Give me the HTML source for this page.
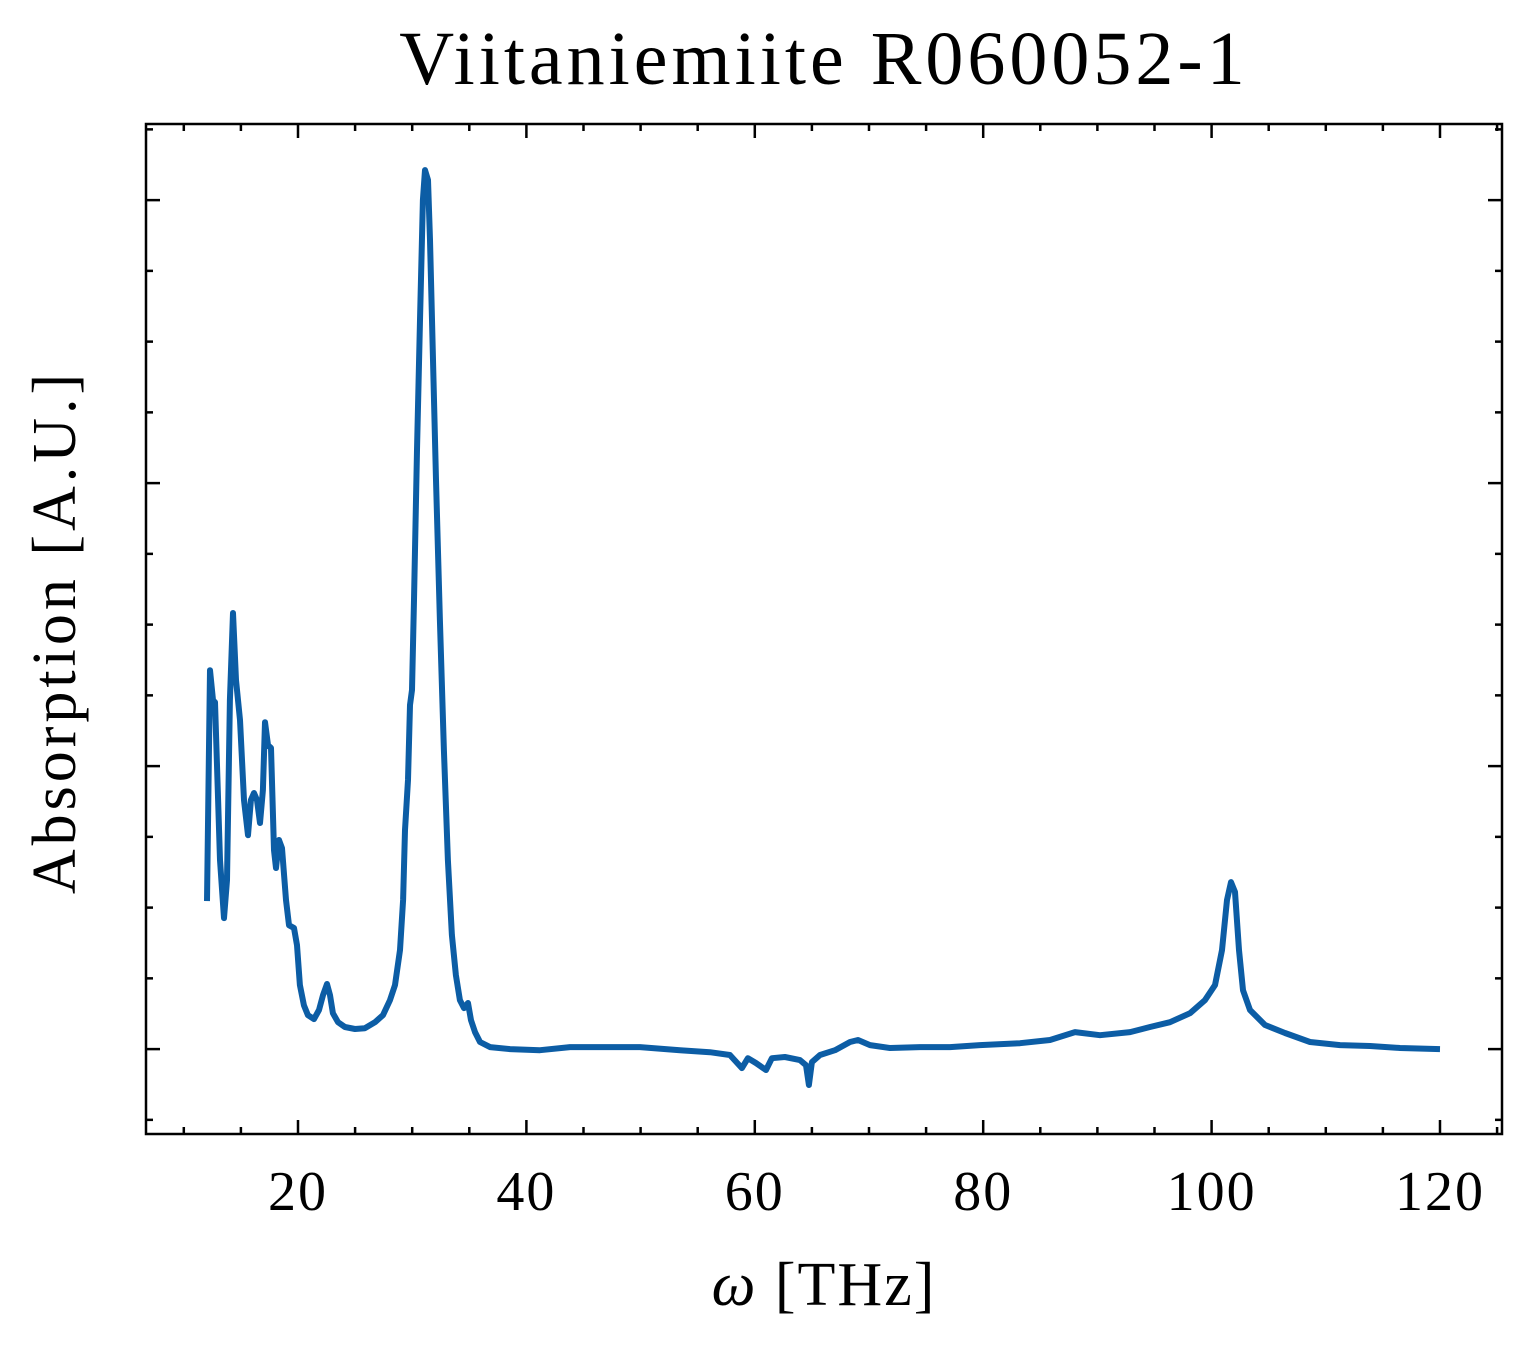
<!DOCTYPE html>
<html><head><meta charset="utf-8"><style>
body{margin:0;background:#fff}
svg text{font-family:"Liberation Serif",serif;fill:#000}
</style></head><body>
<svg id="chart" width="1527" height="1345" viewBox="0 0 1527 1345" xmlns="http://www.w3.org/2000/svg">
<text x="824" y="84" font-size="76" letter-spacing="4" text-anchor="middle">Viitaniemiite R060052-1</text>
<g id="ticks"></g>
<path id="series" fill="none" stroke="#0C5DA5" stroke-width="6" stroke-linejoin="round"/>
<rect x="146" y="124" width="1356" height="1010" fill="none" stroke="#000" stroke-width="2.5"/>
<text x="824" y="1305" font-size="62" letter-spacing="2" text-anchor="middle"><tspan font-style="italic">ω</tspan> [THz]</text>
<text transform="translate(75,632) rotate(-90)" font-size="62" letter-spacing="4" text-anchor="middle">Absorption [A.U.]</text>
</svg>
<script>
const xTicks=[20,40,60,80,100,120];
const xTickLabels=["20","40","60","80","100","120"];
const yTicks=[0,1,2,3];
const freqs=[12.03,12.29,12.56,12.73,13.17,13.52,13.78,14.04,14.31,14.57,14.92,15.27,15.62,15.88,16.15,16.41,16.67,16.93,17.11,17.37,17.64,17.90,18.07,18.34,18.60,18.95,19.21,19.65,19.91,20.17,20.52,20.87,21.40,21.84,22.19,22.54,22.80,23.06,23.50,24.11,24.99,25.86,26.74,27.44,28.06,28.49,28.93,29.20,29.37,29.63,29.81,29.98,30.16,30.42,30.68,30.94,31.12,31.38,31.56,31.82,32.08,32.43,32.78,33.13,33.48,33.83,34.18,34.54,34.89,35.15,35.50,35.94,36.81,38.56,41.19,43.82,46.44,49.95,53.45,56.07,57.82,58.87,59.40,60.10,60.98,61.50,62.64,63.96,64.48,64.74,65.00,65.71,67.02,68.34,69.04,70.09,71.84,74.47,77.09,79.72,83.22,85.85,88.04,90.23,92.86,94.61,96.36,98.11,99.42,100.30,100.91,101.35,101.70,102.05,102.40,102.75,103.36,104.68,106.43,108.62,111.24,113.87,116.50,120.00];
const absorption=[0.523,1.339,1.233,1.226,0.668,0.463,0.597,1.233,1.541,1.304,1.163,0.880,0.756,0.880,0.905,0.880,0.799,0.915,1.155,1.074,1.064,0.703,0.640,0.739,0.710,0.527,0.438,0.428,0.367,0.226,0.155,0.120,0.106,0.138,0.191,0.230,0.191,0.127,0.095,0.078,0.071,0.074,0.095,0.120,0.173,0.226,0.350,0.527,0.774,0.951,1.216,1.269,1.587,2.117,2.576,3.000,3.106,3.071,2.859,2.435,2.011,1.516,1.057,0.668,0.403,0.261,0.173,0.145,0.163,0.102,0.060,0.025,0.007,0,-0.004,0.007,0.007,0.007,-0.004,-0.011,-0.021,-0.067,-0.032,-0.049,-0.074,-0.032,-0.028,-0.039,-0.057,-0.127,-0.046,-0.021,-0.004,0.025,0.032,0.014,0.004,0.007,0.007,0.014,0.021,0.032,0.060,0.049,0.060,0.078,0.095,0.127,0.173,0.226,0.350,0.527,0.590,0.555,0.350,0.208,0.138,0.085,0.057,0.025,0.014,0.011,0.004,0];
const L=146,R=1502,T=124,B=1134;
const xMin=6.69,xMax=125.43,yMin=-0.300,yMax=3.269;
const sx=v=>L+(v-xMin)/(xMax-xMin)*(R-L);
const sy=v=>B-(v-yMin)/(yMax-yMin)*(B-T);
const NS="http://www.w3.org/2000/svg";
const g=document.getElementById('ticks');
function line(x1,y1,x2,y2,name){const l=document.createElementNS(NS,'line');
l.setAttribute('x1',x1);l.setAttribute('y1',y1);l.setAttribute('x2',x2);l.setAttribute('y2',y2);
l.setAttribute('stroke','#000');l.setAttribute('stroke-width',2.5);


g.appendChild(l);}
for(let v=10;v<=125;v+=5){const x=sx(v);const major=xTicks.includes(v);const len=major?14:7;
line(x,B,x,B-len,major?'x-major-tick':'x-minor-tick');line(x,T,x,T+len,major?'x-major-tick':'x-minor-tick');}
xTicks.forEach((v,i)=>{const t=document.createElementNS(NS,'text');t.setAttribute('x',sx(v));t.setAttribute('y',1210);
t.setAttribute('font-size',56);t.setAttribute('letter-spacing',2);t.setAttribute('text-anchor','middle');t.textContent=xTickLabels[i];


g.appendChild(t);});
for(let v=-0.25;v<=3.25;v+=0.25){const y=sy(v);const major=Math.abs(v-Math.round(v))<1e-6;const len=major?14:7;
line(L,y,L+len,y,major?'y-major-tick':'y-minor-tick');line(R,y,R-len,y,major?'y-major-tick':'y-minor-tick');}
let d='';freqs.forEach((f,i)=>{d+=(i?'L':'M')+sx(f).toFixed(1)+' '+sy(absorption[i]).toFixed(1);});
document.getElementById('series').setAttribute('d',d);
</script>
</body></html>
